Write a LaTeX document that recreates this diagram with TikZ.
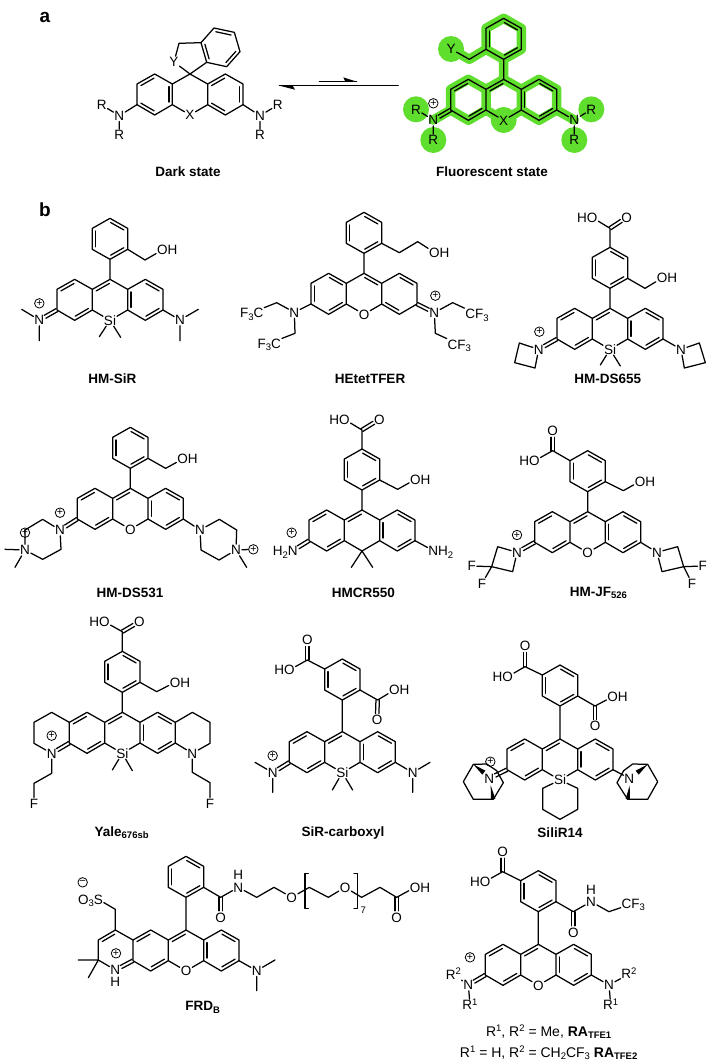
\documentclass[tikz,border=0pt]{standalone}
\usepackage{fontspec}
\setmainfont{Liberation Sans}
\usetikzlibrary{calc}
\newcommand\atomfont{\fontsize{13.5}{14}\selectfont}
\newcommand\sbs[1]{\raisebox{-2.6pt}{\fontsize{9.5}{10}\selectfont #1}}
\newcommand\sps[1]{\raisebox{4.6pt}{\fontsize{9.5}{10}\selectfont #1}}
\definecolor{hl}{RGB}{95,222,45}
\tikzset{
  atom/.style={inner sep=1pt,outer sep=0pt,text height=9.7pt,text depth=0pt,font=\atomfont},
  tail/.style={atom,inner xsep=0pt},
  lbl/.style={inner sep=0pt,font=\fontsize{13.5}{15}\selectfont\bfseries},
  plain/.style={inner sep=0pt,font=\fontsize{14}{16}\selectfont},
  chgst/.style={circle,draw,line width=.8pt,inner sep=0pt,minimum size=9.5pt,font=\fontsize{10.5}{10}\selectfont},
  glow/.style={draw=hl,line width=9.5pt,line join=round,line cap=round},
  wedge/.style={fill=black,draw=none}
}
\newcommand\atm[4]{\node[atom] (#1) at (#2,#3) {#4};}
\newcommand\cd[3]{\coordinate (#1) at (#2,#3);}
\newcommand\chg[3]{\node[chgst] (#1) at (#2,#3) {+};}
\newcommand\OHr[3]{\node[atom] (#1) at (#2,#3) {O};\node[tail,anchor=west,xshift=-1pt] (#1h) at (#1.east) {H};}
\newcommand\HOl[3]{\node[atom] (#1) at (#2,#3) {O};\node[tail,anchor=east,xshift=1pt] (#1h) at (#1.west) {H};}
% inner line of a ring double bond: on the right-hand side of a->b
\newcommand\db[2]{\draw[shorten <=2.6pt,shorten >=2.6pt] ($(#1)!3.3pt!-90:(#2)$) -- ($(#2)!3.3pt!90:(#1)$);}
% double bond from a coordinate to an atom label
\newcommand\dd[2]{\draw[shorten >=6.5pt] ($(#1)!1.7pt!90:(#2)$) -- ($(#2)!1.7pt!-90:(#1)$);\draw[shorten >=6.5pt] ($(#1)!1.7pt!-90:(#2)$) -- ($(#2)!1.7pt!90:(#1)$);}
\newcommand\xcoords[2]{\begin{scope}[shift={(#1,#2)}]
 \cd{c9}{0}{0}\cd{la}{-53}{30}\cd{lb}{-53}{92}\cd{l1}{-106}{0}\cd{l2}{-159}{30}\cd{l3}{-159}{92}\cd{l4}{-106}{123}
 \cd{ra}{53}{30}\cd{rb}{53}{92}\cd{r1}{106}{0}\cd{r2}{159}{30}\cd{r3}{159}{92}\cd{r4}{106}{123}\cd{xc}{0}{123}
 \end{scope}}
\newcommand\xan[3]{\xcoords{#1}{#2}\atm{x}{#1}{\the\numexpr#2+123\relax}{#3}
 \draw (c9)--(la)--(l1)--(l2)--(l3)--(l4)--(lb)--(la) (lb)--(x)--(rb)--(ra)--(c9) (ra)--(r1)--(r2)--(r3)--(r4)--(rb);}
% same skeleton with a bare carbon at the bottom of the centre ring
\newcommand\xanc[2]{\xcoords{#1}{#2}
 \draw (c9)--(la)--(l1)--(l2)--(l3)--(l4)--(lb)--(la) (lb)--(xc)--(rb)--(ra)--(c9) (ra)--(r1)--(r2)--(r3)--(r4)--(rb);}
\newcommand\xdb{\db{la}{c9}\db{l2}{l1}\db{lb}{l4}\db{rb}{ra}\db{r1}{r2}\db{r3}{r4}}
\newcommand\phcoords[2]{\begin{scope}[shift={(#1,#2)}]
 \cd{p0}{0}{0}\cd{p1}{-53}{-30}\cd{p2}{-53}{-93}\cd{p3}{0}{-123}\cd{p4}{53}{-93}\cd{p5}{53}{-30}
 \end{scope}}
\newcommand\phen[2]{\phcoords{#1}{#2}
 \draw (p0)--(p1)--(p2)--(p3)--(p4)--(p5)--cycle (c9)--(p0);
 \db{p1}{p2}\db{p3}{p4}\db{p5}{p0}}
\begin{document}
\begin{tikzpicture}[x=0.333333pt,y=-0.333333pt,line width=1.25pt,line join=round,line cap=round]
\path[fill=white,use as bounding box] (0,0) rectangle (2136,3192);
%% panel letters and captions
\node[lbl,font=\fontsize{19}{20}\selectfont\bfseries] (pa) at (135,52) {a};
\node[lbl,font=\fontsize{19}{20}\selectfont\bfseries] (pb) at (135,630) {b};
\node[lbl] (t1) at (564,515) {Dark state};
\node[lbl] (t2) at (1476,515) {Fluorescent state};
\node[lbl] (t3) at (337,1137) {HM-SiR};
\node[lbl] (t4) at (1110,1137) {HEtetTFER};
\node[lbl] (t5) at (1823,1137) {HM-DS655};
\node[lbl] (t6) at (390,1779) {HM-DS531};
\node[lbl] (t7) at (1090,1779) {HMCR550};
\node[lbl] (t8) at (1795,1779) {HM-JF\sbs{526}};
\node[lbl] (t9) at (365,2498) {Yale\sbs{676sb}};
\node[lbl] (t10) at (1029,2498) {SiR-carboxyl};
\node[lbl] (t11) at (1680,2498) {SiliR14};
\node[lbl] (t12) at (608,3022) {FRD\sbs{B}};
\node[plain] (t13) at (1646,3096) {R\sps{1}, R\sps{2} = Me, \textbf{RA\sbs{\bfseries TFE1}}};
\node[plain] (t14) at (1646,3159) {R\sps{1} = H, R\sps{2} = CH\sbs{2}CF\sbs{3} \textbf{RA\sbs{\bfseries TFE2}}};
%% equilibrium arrows
\cd{e1}{838}{257}\cd{e2}{1195}{257}\cd{e3}{958}{245}\cd{e4}{1070}{245}
\draw (e1)--(e2); \draw (e3)--(e4);
\fill[wedge] (e1)--(885,269)--(878,257)--cycle;
\fill[wedge] (e4)--(1030,232)--(1036,245)--cycle;
%% Dark state
\begin{scope}[name prefix=dark-]
\xan{570}{222}{X}
\db{l2}{l1}\db{la}{lb}\db{l4}{l3}\db{ra}{r1}\db{r2}{r3}\db{r4}{rb}
\atm{y}{522}{186}{Y}\cd{a}{537}{130}\cd{b}{603}{128}\cd{c}{642}{84}\cd{d}{703}{97}\cd{e}{720}{155}\cd{f}{680}{200}\cd{g}{620}{187}
\draw (c9)--(y)--(a)--(b)--(c)--(d)--(e)--(f)--(g)--(b) (g)--(c9);
\db{c}{d}\db{e}{f}\db{g}{b}
\atm{n1}{358}{347}{N}\atm{r1a}{305}{315}{R}\atm{r1b}{358}{405}{R}
\atm{n2}{780}{347}{N}\atm{r2a}{833}{315}{R}\atm{r2b}{780}{405}{R}
\draw (l3)--(n1)--(r1a) (n1)--(r1b) (r3)--(n2)--(r2a) (n2)--(r2b);
\end{scope}
%% Fluorescent state
\begin{scope}[shift={(1068,0)},name prefix=fl-]
\xcoords{443}{238}\phcoords{443}{178}
\cd{ch}{340}{178}\cd{yc}{285}{147}\cd{nl}{232}{360}\cd{nr}{655}{360}
\draw[glow] (c9)--(la)--(l1)--(l2)--(l3)--(l4)--(lb)--(la) (lb)--(xc)--(rb)--(ra)--(c9) (ra)--(r1)--(r2)--(r3)--(r4)--(rb) (c9)--(p0)--(p1)--(p2)--(p3)--(p4)--(p5)--(p0) (p1)--(ch)--(yc) (l3)--(nl) (r3)--(nr);
\foreach \px/\py in {285/147,180/328,232/420,443/360,706/328,655/420}{\fill[hl] (\px,\py) circle (13pt);}
\xan{443}{238}{X}\phen{443}{178}\xdb
\atm{y}{285}{147}{Y}\draw (p1)--(ch)--(y);
\atm{n1}{232}{360}{N}\atm{r1a}{180}{328}{R}\atm{r1b}{232}{420}{R}\chg{q}{232}{310}
\atm{n2}{655}{360}{N}\atm{r2a}{706}{328}{R}\atm{r2b}{655}{420}{R}
\dd{l3}{n1}\draw (n1)--(r1a) (n1)--(r1b) (r3)--(n2)--(r2a) (n2)--(r2b);
\end{scope}
%% HM-SiR
\begin{scope}[shift={(0,570)},name prefix=sir-]
\xan{330}{268}{Si}\xdb\phen{330}{208}
\cd{ch}{435}{210}\OHr{o}{487}{180}\draw (p5)--(ch)--(o);
\atm{n1}{118}{390}{N}\chg{q}{118}{340}\cd{m1}{65}{358}\cd{m2}{118}{452}
\atm{n2}{540}{390}{N}\cd{m3}{595}{358}\cd{m4}{540}{452}\cd{m5}{298}{440}\cd{m6}{362}{442}
\dd{l3}{n1}\draw (n1)--(m1) (n1)--(m2) (r3)--(n2)--(m3) (n2)--(m4) (x)--(m5) (x)--(m6);
\end{scope}
%% HEtetTFER
\begin{scope}[shift={(0,570)},name prefix=het-]
\xan{1092}{250}{O}\phen{1092}{190}
\db{l3}{l2}\db{l1}{la}\db{lb}{l4}\db{c9}{ra}\db{r1}{r2}\db{r4}{rb}
\cd{h1}{1198}{188}\cd{h2}{1253}{155}\OHr{o}{1303}{187}\draw (p5)--(h1)--(h2)--(o);
\atm{nl}{883}{367}{N}\cd{a}{830}{338}\atm{fa}{755}{368}{F\sbs{3}C}\cd{b}{885}{430}\atm{fb}{808}{460}{F\sbs{3}C}
\draw (l3)--(nl)--(a)--(fa) (nl)--(b)--(fb);
\atm{nr}{1303}{368}{N}\chg{q}{1306}{317}\cd{c}{1358}{338}\atm{fc}{1431}{372}{CF\sbs{3}}\cd{d}{1306}{430}\atm{fd}{1378}{463}{CF\sbs{3}}
\dd{r3}{nr}\draw (nr)--(c)--(fc) (nr)--(d)--(fd);
\end{scope}
%% HM-DS655
\begin{scope}[shift={(1068,570)},name prefix=ds655-]
\xan{762}{355}{Si}\xdb\phen{762}{295}
\cd{c}{762}{115}\atm{od}{812}{82}{O}\HOl{oh}{708}{82}\draw (p3)--(c)--(oh);\dd{c}{od}
\cd{ch}{867}{295}\OHr{o}{918}{264}\draw (p5)--(ch)--(o);
\cd{m1}{733}{525}\cd{m2}{793}{528}\draw (x)--(m1) (x)--(m2);
\atm{n1}{548}{478}{N}\chg{q}{550}{425}\cd{a}{490}{459}\cd{b}{476}{518}\cd{d}{537}{534}
\dd{l3}{n1}\draw (n1)--(a)--(b)--(d)--(n1);
\atm{n2}{975}{478}{N}\cd{e}{1030}{459}\cd{f}{1048}{518}\cd{g}{985}{534}
\draw (r3)--(n2)--(e)--(f)--(g)--(n2);
\end{scope}
%% HM-DS531
\begin{scope}[shift={(0,1140)},name prefix=ds531-]
\xan{391}{325}{O}\xdb\phen{391}{265}
\cd{ch}{497}{265}\OHr{o}{548}{237}\draw (p5)--(ch)--(o);
\atm{n1}{180}{450}{N}\chg{q1}{180}{398}\cd{a}{128}{418}\cd{b}{75}{450}\atm{n2}{75}{510}{N}\cd{c}{128}{538}\cd{d}{183}{508}
\cd{m1}{15}{508}\cd{m2}{45}{562}
\dd{l3}{n1}\draw (n1)--(a)--(b)--(n2)--(c)--(d)--(n1) (n2)--(m1) (n2)--(m2);
\chg{q2}{75}{458}
\atm{n3}{600}{450}{N}\cd{e}{658}{418}\cd{f}{710}{450}\atm{n4}{708}{510}{N}\cd{g}{657}{540}\cd{h}{603}{510}
\chg{q3}{760}{508}\cd{m3}{740}{562}
\draw (r3)--(n3)--(e)--(f)--(n4)--(g)--(h)--(n3) (n4)--(m3) (n4)--(q3);
\end{scope}
%% HMCR550
\begin{scope}[shift={(0,1140)},name prefix=hmcr-]
\xanc{1086}{390}\xdb\phen{1086}{330}
\cd{c}{1086}{150}\atm{od}{1138}{118}{O}\HOl{oh}{1033}{118}\draw (p3)--(c)--(oh);\dd{c}{od}
\cd{ch}{1193}{328}\OHr{o}{1246}{298}\draw (p5)--(ch)--(o);
\cd{m1}{1054}{562}\cd{m2}{1118}{562}\draw (xc)--(m1) (xc)--(m2);
\atm{n1}{878}{512}{N}\node[tail,anchor=east,xshift=1pt] (n1h) at (n1.west) {H\sbs{2}};\chg{q}{875}{458}\dd{l3}{n1}
\atm{n2}{1300}{512}{N}\node[tail,anchor=west,xshift=-1pt] (n2h) at (n2.east) {H\sbs{2}};\draw (r3)--(n2);
\end{scope}
%% HM-JF526
\begin{scope}[shift={(1068,1140)},name prefix=jf-]
\xan{695}{395}{O}\xdb\phen{695}{335}
\cd{c}{590}{212}\atm{od}{590}{152}{O}\HOl{oh}{535}{243}\draw (p2)--(c)--(oh);\dd{c}{od}
\cd{ch}{802}{332}\OHr{o}{852}{304}\draw (p5)--(ch)--(o);
\atm{n1}{483}{517}{N}\chg{q}{483}{465}\cd{a}{425}{500}\cd{b}{407}{560}\cd{d}{470}{575}\atm{f1}{347}{558}{F}\atm{f2}{378}{610}{F}
\dd{l3}{n1}\draw (n1)--(a)--(b)--(d)--(n1) (b)--(f1) (b)--(f2);
\atm{n2}{903}{517}{N}\cd{e}{965}{500}\cd{f}{983}{560}\cd{g}{918}{575}\atm{f3}{1040}{558}{F}\atm{f4}{1008}{610}{F}
\draw (r3)--(n2)--(e)--(f)--(g)--(n2) (f)--(f3) (f)--(f4);
\end{scope}
%% Yale676sb
\begin{scope}[shift={(0,1770)},name prefix=yale-]
\xan{367}{367}{Si}\xdb\phen{367}{307}
\cd{c}{367}{125}\atm{od}{418}{95}{O}\HOl{oh}{313}{95}\draw (p3)--(c)--(oh);\dd{c}{od}
\cd{ch}{470}{305}\OHr{o}{525}{277}\draw (p5)--(ch)--(o);
\cd{m1}{337}{540}\cd{m2}{397}{542}\draw (x)--(m1) (x)--(m2);
\atm{n1}{155}{490}{N}\chg{q}{155}{437}\cd{a}{102}{460}\cd{b}{102}{397}\cd{d}{155}{367}\cd{e}{155}{550}\cd{f}{102}{580}\atm{fa}{102}{640}{F}
\dd{l3}{n1}\draw (n1)--(a)--(b)--(d)--(l2) (n1)--(e)--(f)--(fa);
\atm{n2}{577}{490}{N}\cd{g}{630}{460}\cd{h}{630}{397}\cd{i}{577}{367}\cd{j}{577}{547}\cd{k}{630}{578}\atm{fb}{630}{640}{F}
\draw (r3)--(n2)--(g)--(h)--(i)--(r2) (n2)--(j)--(k)--(fb);
\end{scope}
%% SiR-carboxyl
\begin{scope}[shift={(0,1770)},name prefix=sic-]
\xan{1027}{425}{Si}\xdb\phen{1027}{330}
\cd{c1}{922}{210}\atm{od1}{922}{150}{O}\HOl{oh1}{868}{240}\draw (p2)--(c1)--(oh1);\dd{c1}{od1}
\cd{c2}{1133}{330}\atm{od2}{1131}{390}{O}\OHr{oh2}{1183}{300}\draw (p5)--(c2)--(oh2);\dd{c2}{od2}
\cd{m1}{997}{600}\cd{m2}{1058}{600}\draw (x)--(m1) (x)--(m2);
\atm{n1}{818}{548}{N}\chg{q}{818}{497}\cd{m3}{765}{517}\cd{m4}{818}{607}\dd{l3}{n1}\draw (n1)--(m3) (n1)--(m4);
\atm{n2}{1238}{548}{N}\cd{m5}{1290}{517}\cd{m6}{1238}{607}\draw (r3)--(n2)--(m5) (n2)--(m6);
\end{scope}
%% SiliR14
\begin{scope}[shift={(1068,1770)},name prefix=sili-]
\xan{612}{447}{Si}\xdb\phen{612}{348}
\cd{c1}{507}{230}\atm{od1}{507}{168}{O}\HOl{oh1}{455}{260}\draw (p2)--(c1)--(oh1);\dd{c1}{od1}
\cd{c2}{717}{348}\atm{od2}{717}{408}{O}\OHr{oh2}{770}{320}\draw (p5)--(c2)--(oh2);\dd{c2}{od2}
\cd{s1}{560}{595}\cd{s2}{560}{658}\cd{s3}{612}{688}\cd{s4}{665}{658}\cd{s5}{665}{595}
\draw (x)--(s1)--(s2)--(s3)--(s4)--(s5)--(x);
% left bicycle
\atm{n1}{400}{565}{N}\chg{q}{403}{515}\cd{a}{352}{523}\cd{b}{322}{575}\cd{d}{352}{628}\cd{e}{412}{628}\cd{f}{442}{578}\cd{g}{422}{542}\cd{h}{392}{522}
\dd{l3}{n1}\draw (a)--(b)--(d)--(e)--(f)--(g)--(h)--(a);
\fill[wedge] (a)--(388,542)--(379,554)--cycle;
\fill[wedge] (404,586)--(418,626)--(405,630)--cycle;
% right bicycle
\atm{n2}{820}{565}{N}\cd{i}{875}{523}\cd{j}{905}{575}\cd{k}{875}{628}\cd{m}{815}{628}\cd{o}{783}{578}\cd{r}{803}{542}\cd{s}{830}{522}
\draw (r3)--(n2) (i)--(j)--(k)--(m)--(o)--(r)--(s)--(i);
\fill[wedge] (i)--(839,542)--(848,554)--cycle;
\fill[wedge] (821,586)--(809,626)--(822,630)--cycle;
\end{scope}
%% FRD-B
\begin{scope}[shift={(0,2430)},name prefix=frd-]
\xan{558}{360}{O}\xdb\phen{558}{262}
\cd{q1}{346}{360}\cd{q2}{295}{390}\cd{q3}{295}{450}\atm{nh}{346}{480}{N}\atm{hh}{346}{515}{H}\chg{qp}{348}{430}
\draw (l2)--(q1)--(q2)--(q3)--(nh);\db{q2}{q1}\dd{l3}{nh}
\cd{m1}{235}{450}\cd{m2}{265}{503}\draw (q3)--(m1) (q3)--(m2);
\cd{ch}{346}{298}\atm{s}{295}{268}{S}\node[tail,anchor=east,xshift=1pt] (o3) at (s.west) {O\sbs{3}};
\node[chgst,font=\fontsize{11}{10}\selectfont] (qm) at (248,217) {−};
\draw (q1)--(ch)--(s);
\atm{nr}{770}{482}{N}\cd{m3}{825}{450}\cd{m4}{770}{542}\draw (r3)--(nr)--(m3) (nr)--(m4);
\cd{ca}{662}{262}\atm{oa}{662}{322}{O}\dd{ca}{oa}
\atm{na}{715}{232}{N}\atm{ha}{715}{195}{H}
\cd{e1}{770}{262}\cd{e2}{822}{232}\atm{o1}{875}{262}{O}\cd{e3}{928}{232}\cd{e4}{985}{262}\atm{o2}{1035}{232}{O}\cd{e5}{1085}{262}\cd{e6}{1140}{232}\cd{e7}{1190}{262}
\atm{ob}{1190}{322}{O}\dd{e7}{ob}\OHr{oh}{1245}{232}
\draw (p5)--(ca)--(na)--(e1)--(e2)--(o1)--(e3)--(e4)--(o2)--(e5)--(e6)--(e7)--(oh);
\cd{b1}{925}{190}\cd{b2}{915}{190}\cd{b3}{915}{295}\cd{b4}{925}{295}
\cd{b5}{1062}{190}\cd{b6}{1072}{190}\cd{b7}{1072}{295}\cd{b8}{1062}{295}
\draw (b1)--(b2)--(b3)--(b4) (b5)--(b6)--(b7)--(b8);
\node[inner sep=0pt,font=\fontsize{9.5}{10}\selectfont] (sev) at (1090,300) {7};
\end{scope}
%% RA-TFE
\begin{scope}[shift={(1260,2430)},name prefix=ra-]
\xan{355}{403}{O}\xdb\phen{355}{305}
\cd{c1}{248}{185}\atm{od1}{248}{125}{O}\HOl{oh1}{195}{215}\draw (p2)--(c1)--(oh1);\dd{c1}{od1}
\cd{c2}{460}{305}\atm{od2}{460}{367}{O}\dd{c2}{od2}
\atm{na}{513}{275}{N}\atm{ha}{513}{240}{H}\cd{ch}{567}{305}\atm{cf}{640}{280}{CF\sbs{3}}
\draw (p5)--(c2)--(na)--(ch)--(cf);
\atm{n1}{145}{525}{N}\chg{q}{150}{442}\atm{r2a}{100}{493}{R\sps{2}}\atm{r1a}{150}{585}{R\sps{1}}
\dd{l3}{n1}\draw (n1)--(r2a) (n1)--(r1a);
\atm{n2}{567}{525}{N}\atm{r2b}{627}{492}{R\sps{2}}\atm{r1b}{572}{585}{R\sps{1}}
\draw (r3)--(n2)--(r2b) (n2)--(r1b);
\end{scope}
\end{tikzpicture}
\end{document}
